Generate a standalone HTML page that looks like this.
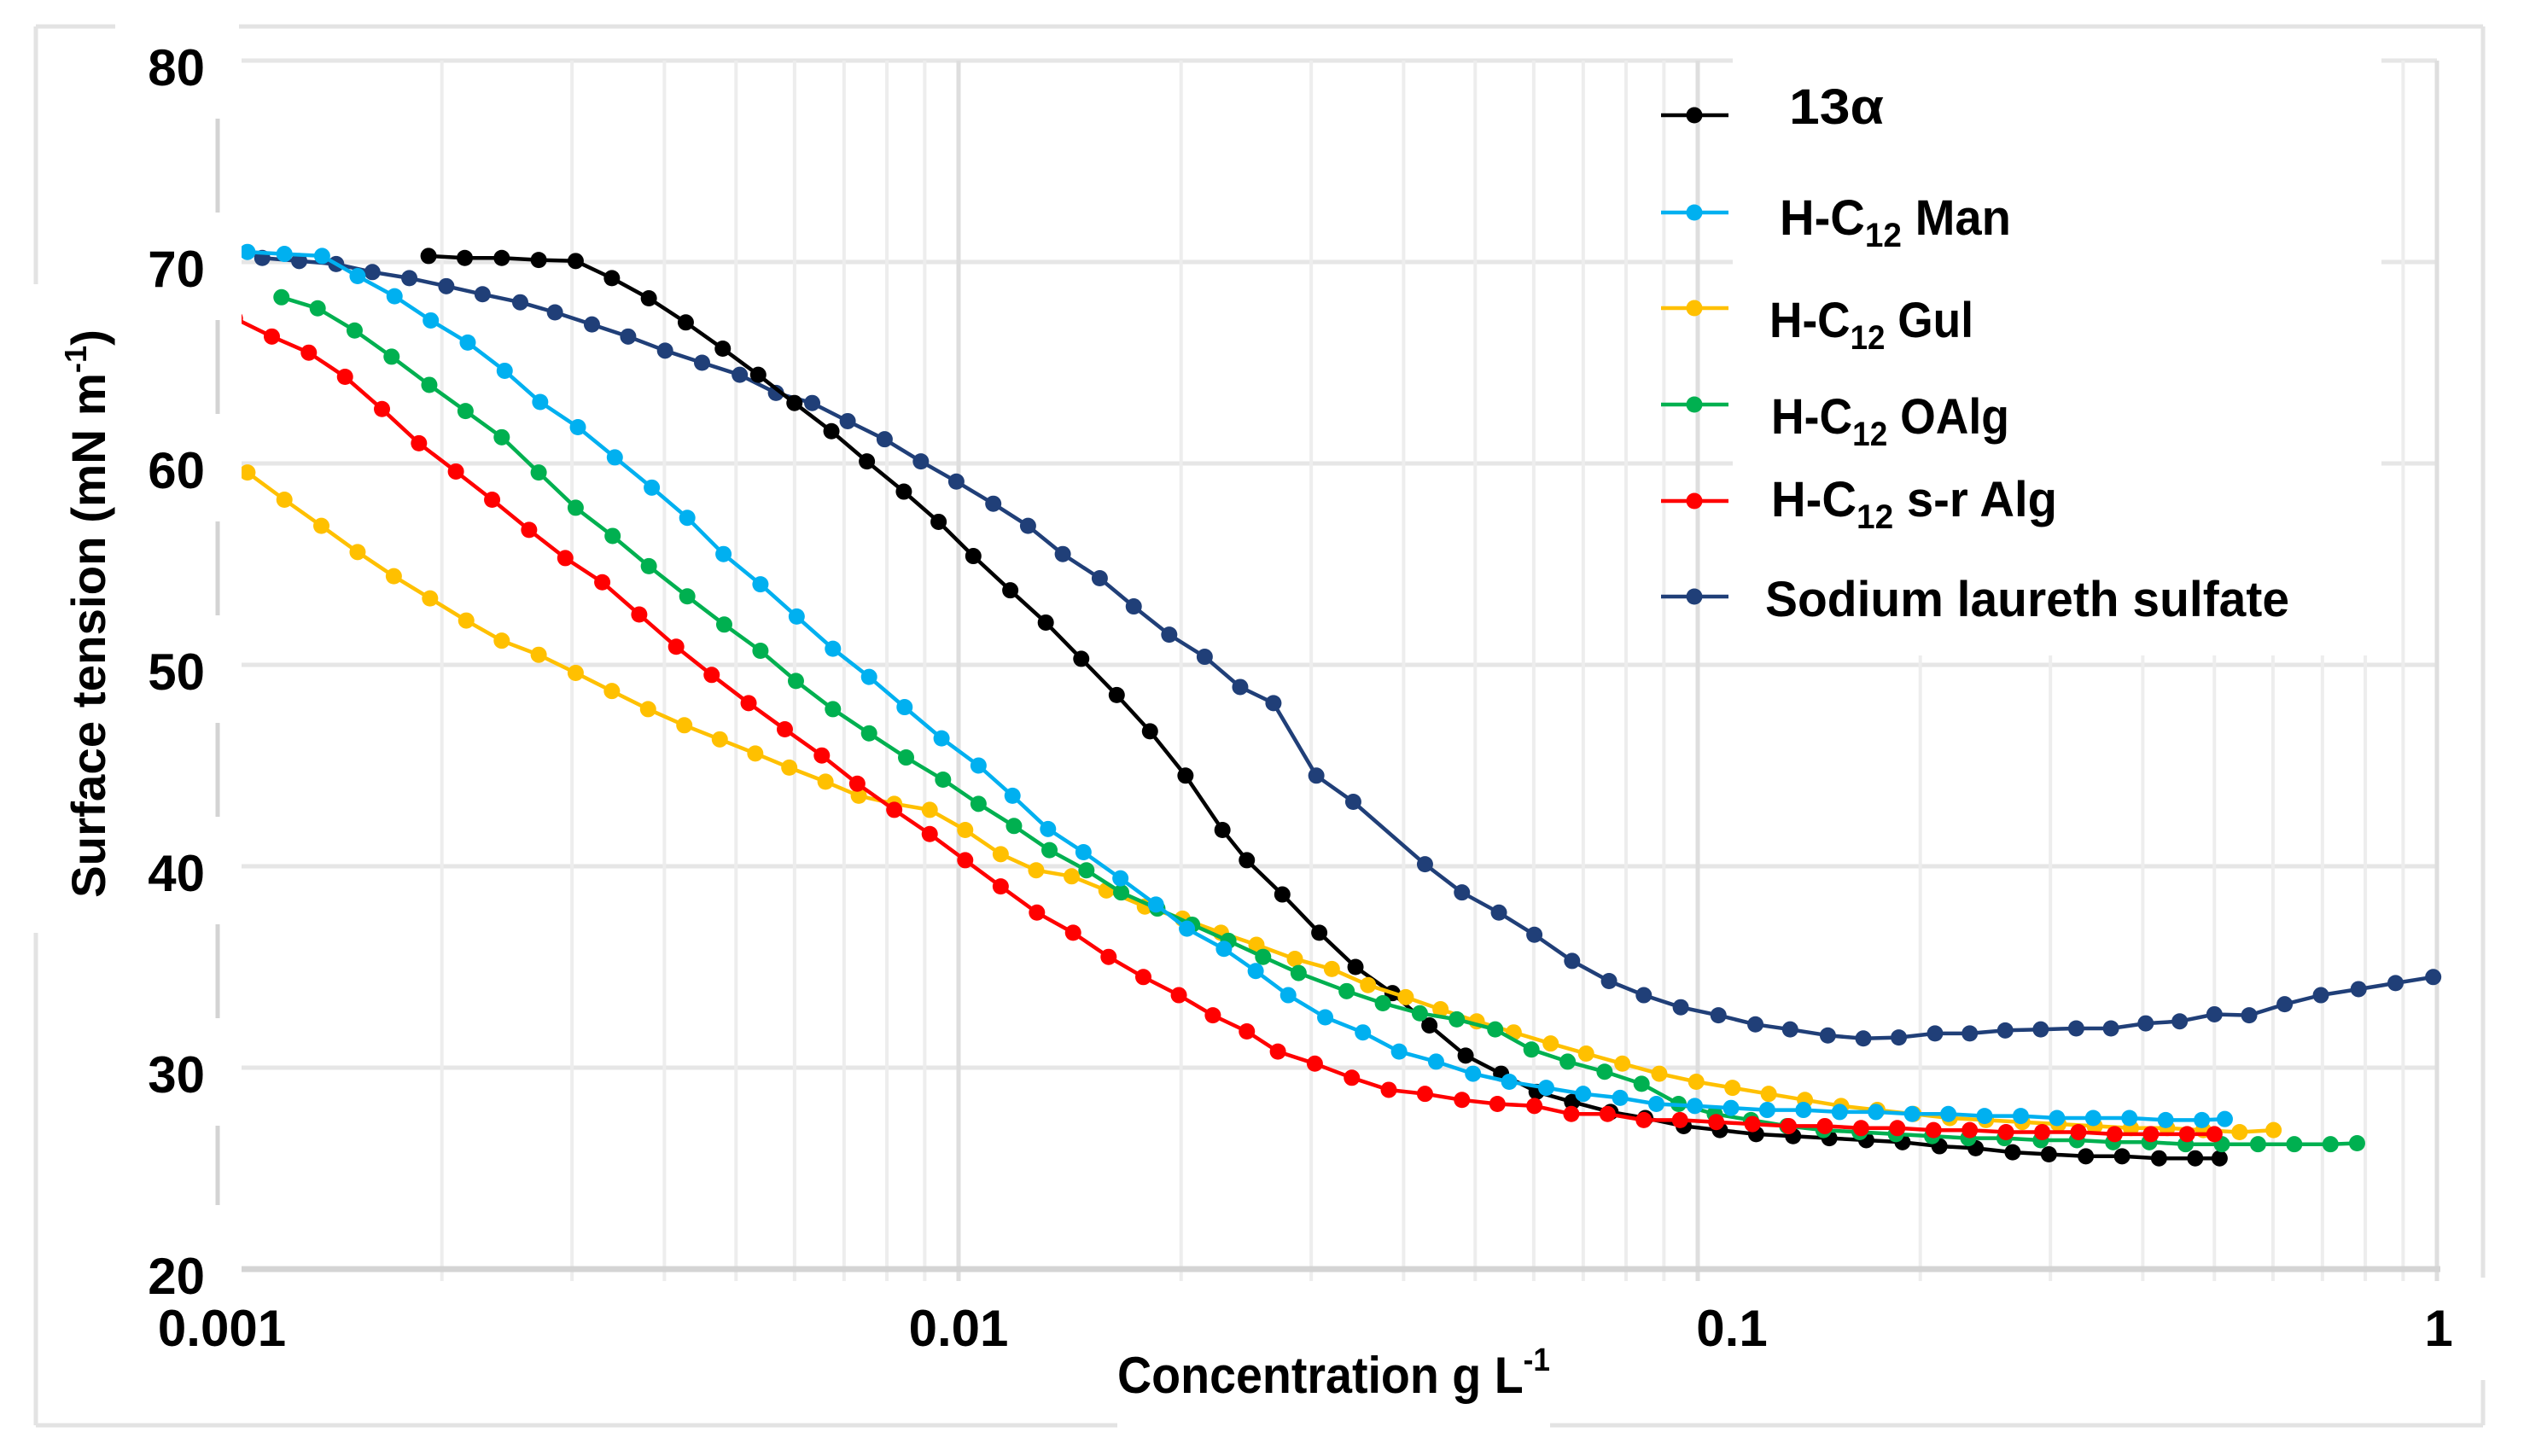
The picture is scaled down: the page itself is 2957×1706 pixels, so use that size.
<!DOCTYPE html>
<html><head><meta charset="utf-8"><title>Surface tension vs concentration</title>
<style>
html,body{margin:0;padding:0;background:#fff;}
svg{display:block;}
text{font-family:"Liberation Sans",Arial,sans-serif;fill:#000;}
</style></head>
<body>
<svg id="chart" width="2957" height="1706" viewBox="0 0 2957 1706" xmlns="http://www.w3.org/2000/svg">
  <defs><clipPath id="plotClip"><rect x="283" y="0" width="2600" height="1500"/></clipPath></defs>
  <g id="frame"></g>
  <g id="grid"></g>
  <rect x="2030" y="62" width="760" height="706" fill="#fff"/>
  <g id="axes"></g>
  <g id="series" clip-path="url(#plotClip)"></g>
  <g id="legend"></g>
  <text x="1309" y="1632" font-size="60" font-weight="bold" textLength="507" lengthAdjust="spacingAndGlyphs">Concentration g L<tspan font-size="38" dy="-26">-1</tspan></text>
  <text transform="translate(123,1052) rotate(-90)" font-size="56" font-weight="bold" textLength="666" lengthAdjust="spacingAndGlyphs">Surface tension (mN m<tspan font-size="36" dy="-22">-1</tspan><tspan dy="22">)</tspan></text>
</svg>
<script>
// ---- data (x in log10 concentration g/L, y in mN/m) ----
const seriesNames = ["13α","H-C12 Man","H-C12 Gul","H-C12 OAlg","H-C12 s-r Alg","Sodium laureth sulfate"];
const blackLogC = [-2.717,-2.668,-2.618,-2.568,-2.518,-2.469,-2.419,-2.369,-2.319,-2.271,-2.222,-2.172,-2.124,-2.074,-2.027,-1.980,-1.930,-1.882,-1.834,-1.786,-1.741,-1.693,-1.643,-1.610,-1.562,-1.512,-1.463,-1.413,-1.363,-1.314,-1.266,-1.218,-1.170,-1.118,-1.071,-1.019,-0.970,-0.921,-0.871,-0.822,-0.772,-0.723,-0.673,-0.624,-0.574,-0.525,-0.475,-0.426,-0.376,-0.327,-0.294];
const blackVal = [70.3,70.2,70.2,70.1,70.05,69.2,68.2,67.0,65.7,64.4,63.0,61.6,60.1,58.6,57.1,55.4,53.7,52.1,50.3,48.5,46.7,44.5,41.8,40.3,38.6,36.7,35.0,33.7,32.1,30.6,29.7,28.8,28.3,27.8,27.5,27.1,26.9,26.7,26.6,26.5,26.4,26.3,26.1,26.0,25.8,25.7,25.6,25.6,25.5,25.5,25.5];
const manLogC = [-2.962,-2.912,-2.861,-2.813,-2.763,-2.714,-2.664,-2.614,-2.566,-2.515,-2.465,-2.415,-2.367,-2.318,-2.268,-2.219,-2.170,-2.121,-2.073,-2.023,-1.973,-1.927,-1.879,-1.831,-1.781,-1.733,-1.691,-1.641,-1.598,-1.554,-1.504,-1.453,-1.404,-1.354,-1.304,-1.255,-1.205,-1.155,-1.105,-1.056,-1.004,-0.955,-0.906,-0.857,-0.808,-0.759,-0.710,-0.661,-0.612,-0.563,-0.514,-0.465,-0.416,-0.367,-0.318,-0.287];
const manVal = [70.5,70.4,70.3,69.3,68.3,67.1,66.0,64.6,63.05,61.8,60.3,58.8,57.3,55.5,54.0,52.4,50.8,49.4,47.9,46.35,45.0,43.5,41.85,40.7,39.4,38.1,36.9,35.9,34.8,33.6,32.5,31.75,30.8,30.3,29.7,29.3,29.0,28.7,28.5,28.2,28.1,28.0,27.9,27.9,27.8,27.8,27.7,27.7,27.6,27.6,27.5,27.5,27.5,27.4,27.4,27.45];
const gulLogC = [-2.962,-2.912,-2.862,-2.813,-2.764,-2.715,-2.666,-2.618,-2.568,-2.518,-2.469,-2.420,-2.371,-2.323,-2.275,-2.229,-2.180,-2.135,-2.087,-2.039,-1.991,-1.943,-1.895,-1.847,-1.800,-1.748,-1.697,-1.645,-1.597,-1.545,-1.495,-1.446,-1.395,-1.348,-1.299,-1.249,-1.199,-1.151,-1.102,-1.052,-1.002,-0.953,-0.904,-0.855,-0.806,-0.757,-0.708,-0.659,-0.610,-0.561,-0.512,-0.463,-0.414,-0.365,-0.316,-0.267,-0.221];
const gulVal = [59.55,58.2,56.9,55.6,54.4,53.3,52.2,51.2,50.5,49.6,48.7,47.8,47.0,46.3,45.6,44.9,44.2,43.5,43.1,42.8,41.8,40.6,39.8,39.5,38.8,38.0,37.4,36.7,36.1,35.4,34.9,34.1,33.5,32.9,32.3,31.75,31.2,30.7,30.2,29.7,29.3,29.0,28.7,28.4,28.1,27.9,27.7,27.5,27.4,27.3,27.2,27.1,27.0,27.0,26.9,26.8,26.9];
const oalgLogC = [-2.916,-2.867,-2.817,-2.767,-2.716,-2.667,-2.618,-2.568,-2.518,-2.468,-2.419,-2.367,-2.317,-2.268,-2.220,-2.170,-2.121,-2.071,-2.021,-1.973,-1.925,-1.877,-1.827,-1.780,-1.731,-1.684,-1.635,-1.588,-1.540,-1.475,-1.426,-1.376,-1.326,-1.274,-1.225,-1.176,-1.126,-1.076,-1.026,-0.977,-0.928,-0.879,-0.830,-0.781,-0.732,-0.683,-0.634,-0.585,-0.536,-0.487,-0.438,-0.389,-0.340,-0.291,-0.242,-0.193,-0.144,-0.108];
const oalgVal = [68.25,67.7,66.6,65.3,63.9,62.6,61.3,59.55,57.8,56.4,54.9,53.4,52.0,50.7,49.2,47.8,46.6,45.4,44.3,43.1,42.0,40.8,39.8,38.7,37.9,37.1,36.3,35.5,34.7,33.8,33.2,32.7,32.4,31.9,30.9,30.3,29.8,29.2,28.2,27.7,27.4,27.1,26.9,26.8,26.7,26.6,26.5,26.5,26.4,26.4,26.3,26.3,26.2,26.2,26.2,26.2,26.2,26.25];
const sralgLogC = [-2.979,-2.929,-2.879,-2.830,-2.780,-2.730,-2.680,-2.631,-2.581,-2.532,-2.482,-2.432,-2.382,-2.334,-2.284,-2.235,-2.185,-2.137,-2.087,-2.039,-1.991,-1.943,-1.894,-1.845,-1.797,-1.750,-1.702,-1.656,-1.610,-1.568,-1.518,-1.468,-1.418,-1.369,-1.319,-1.271,-1.221,-1.171,-1.122,-1.073,-1.024,-0.975,-0.926,-0.877,-0.828,-0.779,-0.730,-0.681,-0.632,-0.583,-0.534,-0.485,-0.436,-0.387,-0.338,-0.301];
const sralgVal = [67.2,66.3,65.5,64.3,62.7,61.0,59.6,58.2,56.7,55.3,54.1,52.5,50.9,49.5,48.1,46.8,45.5,44.1,42.8,41.6,40.3,39.0,37.7,36.7,35.5,34.5,33.6,32.6,31.8,30.8,30.2,29.5,28.9,28.7,28.4,28.2,28.1,27.7,27.7,27.4,27.4,27.3,27.2,27.1,27.1,27.0,27.0,26.9,26.9,26.8,26.8,26.8,26.7,26.7,26.7,26.7];
const slesLogC = [-2.942,-2.892,-2.842,-2.793,-2.743,-2.693,-2.644,-2.593,-2.546,-2.496,-2.447,-2.397,-2.347,-2.296,-2.247,-2.198,-2.150,-2.100,-2.051,-2.003,-1.953,-1.906,-1.859,-1.809,-1.763,-1.715,-1.667,-1.619,-1.574,-1.516,-1.466,-1.369,-1.319,-1.269,-1.221,-1.170,-1.120,-1.073,-1.023,-0.972,-0.922,-0.875,-0.824,-0.776,-0.728,-0.679,-0.632,-0.584,-0.536,-0.488,-0.441,-0.394,-0.348,-0.301,-0.254,-0.206,-0.157,-0.106,-0.056,-0.005];
const slesVal = [70.2,70.05,69.9,69.5,69.2,68.8,68.4,68.0,67.5,66.9,66.3,65.6,65.0,64.4,63.5,63.0,62.1,61.2,60.1,59.1,58.0,56.9,55.5,54.3,52.9,51.5,50.4,48.9,48.1,44.5,43.2,40.1,38.7,37.7,36.6,35.3,34.3,33.6,33.0,32.6,32.15,31.9,31.6,31.45,31.5,31.7,31.7,31.85,31.9,31.95,31.95,32.2,32.3,32.65,32.6,33.15,33.6,33.9,34.2,34.5];
const yTicks = [20,30,40,50,60,70,80];
const xTickLabels = ["0.001","0.01","0.1","1"];
const xDecades = [-3,-2,-1,0];

// ---- scales ----
const X0 = 257, DEC = 866, Y80 = 71, PERU = 23.6;
function xs(logc){ return X0 + (logc + 3) * DEC; }
function ys(v){ return Y80 + (80 - v) * PERU; }
const NS = "http://www.w3.org/2000/svg";
function mk(tag, attrs, parent){
  const e = document.createElementNS(NS, tag);
  for (const k in attrs) e.setAttribute(k, attrs[k]);
  parent.appendChild(e); return e;
}
const grid = document.getElementById('grid');
const axes = document.getElementById('axes');
const frame = document.getElementById('frame');

// outer frame (broken like the original)
[[42,31,135,31],[280,31,2909,31],[42,31,42,333],[42,1093,42,1670],[42,1670,1309,1670],[1816,1670,2909,1670],[2909,31,2909,1497],[2909,1617,2909,1670]].forEach(s=>{
  const l = mk('line',{x1:s[0],y1:s[1],x2:s[2],y2:s[3],stroke:'#e3e3e3','stroke-width':5},frame);
  
  
});

// horizontal gridlines
yTicks.forEach(v=>{
  if (v === 20) return;
  const l = mk('line',{x1:283,x2:xs(0),y1:ys(v),y2:ys(v),stroke:'#e6e6e6','stroke-width':5},grid);
  
  
});
// vertical gridlines (major + minor)
xDecades.forEach((d,i)=>{
  if (d >= 0) return;
  for (let m=2;m<=9;m++){
    const x = xs(d + Math.log10(m));
    const l = mk('line',{x1:x,x2:x,y1:Y80,y2:ys(20)+14,stroke:'#ededed','stroke-width':4},grid);
    
    
  }
});
xDecades.forEach(d=>{
  if (d === -3) return;
  const x = xs(d);
  const l = mk('line',{x1:x,x2:x,y1:Y80,y2:ys(20)+14,stroke:'#dedede','stroke-width':5},grid);
  
  
});
// broken left line at 0.001
for (let i=0;i<yTicks.length-1;i++){
  const top = ys(yTicks[i+1]) + 68, bot = ys(yTicks[i]) - 58;
  const l = mk('line',{x1:255,x2:255,y1:top,y2:Math.min(bot,1412),stroke:'#d3d3d3','stroke-width':5},axes);
  
  
}
// x axis line
const xa = mk('line',{x1:283,x2:xs(0)+4,y1:ys(20),y2:ys(20),stroke:'#d4d4d4','stroke-width':7},axes);



// y tick labels
yTicks.forEach(v=>{
  const t = mk('text',{x:240,y:ys(v)+29,'font-size':60,'font-weight':'bold','text-anchor':'end'},axes);
  t.textContent = v;
  
  
});
// x tick labels
const xLabelOffsets = [3,0,40,2];
xTickLabels.forEach((s,i)=>{
  const t = mk('text',{x:xs(xDecades[i])+xLabelOffsets[i],y:1577,'font-size':60,'font-weight':'bold','text-anchor':'middle'},axes);
  t.textContent = s;
  
  
});

// series
const seriesList = [
  {name:'sodium-laureth-sulfate', xs:slesLogC, ys:slesVal, color:'#203f78'},
  {name:'series-13a', xs:blackLogC, ys:blackVal, color:'#000000'},
  {name:'h-c12-gul', xs:gulLogC, ys:gulVal, color:'#ffc000'},
  {name:'h-c12-oalg', xs:oalgLogC, ys:oalgVal, color:'#00b050'},
  {name:'h-c12-man', xs:manLogC, ys:manVal, color:'#00b0f0'},
  {name:'h-c12-sr-alg', xs:sralgLogC, ys:sralgVal, color:'#ff0000'}
];
const sg = document.getElementById('series');
seriesList.forEach(s=>{
  const g = mk('g',{},sg);
  
  
  const pts = s.xs.map((x,i)=>xs(x).toFixed(1)+','+ys(s.ys[i]).toFixed(1)).join(' ');
  const pl = mk('polyline',{points:pts,fill:'none',stroke:s.color,'stroke-width':4.5,'stroke-linejoin':'round'},g);
  
  
  s.xs.forEach((x,i)=>{
    const c = mk('circle',{cx:xs(x),cy:ys(s.ys[i]),r:9.5,fill:s.color},g);
    
    
  });
});

// legend
const lg = document.getElementById('legend');
const legendItems = [
  {color:'#000000', y:135, tx:2096, base:145, main:'13α', sub:'', rest:'', len:111},
  {color:'#00b0f0', y:249, tx:2085, base:275, main:'H-C', sub:'12', rest:' Man', len:271},
  {color:'#ffc000', y:361, tx:2073, base:395, main:'H-C', sub:'12', rest:' Gul', len:239},
  {color:'#00b050', y:474, tx:2075, base:508, main:'H-C', sub:'12', rest:' OAlg', len:279},
  {color:'#ff0000', y:587, tx:2075, base:605, main:'H-C', sub:'12', rest:'  s-r Alg', len:335},
  {color:'#203f78', y:699, tx:2068, base:722, main:'Sodium laureth sulfate', sub:'', rest:'', len:614}
];
legendItems.forEach(it=>{
  const g = mk('g',{},lg);
  
  
  const l = mk('line',{x1:1946,x2:2025,y1:it.y,y2:it.y,stroke:it.color,'stroke-width':4.5},g);
  
  
  const c = mk('circle',{cx:1985,cy:it.y,r:9.5,fill:it.color},g);
  
  
  const t = mk('text',{x:it.tx,y:it.base,'font-size':58,'font-weight':'bold',textLength:it.len,lengthAdjust:'spacingAndGlyphs','xml:space':'preserve'},g);
  
  
  t.appendChild(document.createTextNode(it.main));
  if (it.sub){
    const s1 = mk('tspan',{'font-size':40,dy:14},t); s1.textContent = it.sub;
    const s2 = mk('tspan',{dy:-14},t); s2.textContent = it.rest;
  }
});
</script>
</body></html>
